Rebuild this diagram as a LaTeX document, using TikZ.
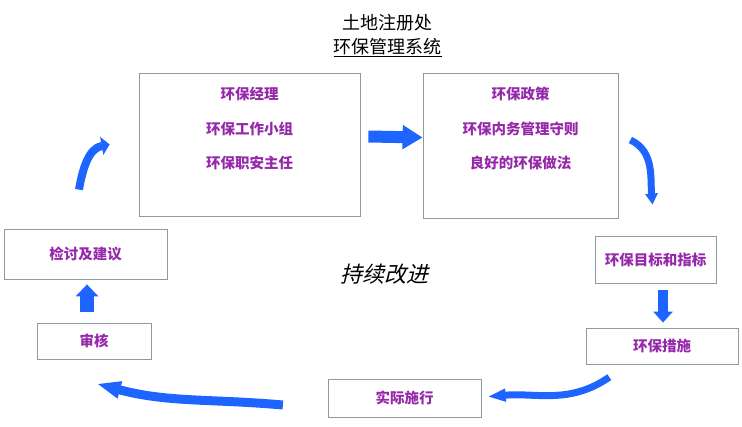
\documentclass[tikz,border=0pt]{standalone}
\usepackage{fontspec}
\newfontfamily\cjk{Noto Sans CJK SC}
\newfontfamily\cjkslant{Noto Sans CJK SC}[FakeSlant=0.25]
\usetikzlibrary{positioning,calc,arrows.meta}
\definecolor{boxgray}{RGB}{140,155,155}
\definecolor{flowblue}{RGB}{30,100,255}
\definecolor{itempurple}{RGB}{150,40,170}
\tikzset{
        box/.style={draw=boxgray,line width=0.8pt,inner sep=0pt,text=itempurple,
                font={\cjk\bfseries\fontsize{14.5pt}{34.5pt}\selectfont},align=center},
        itemlist/.style={inner sep=0pt,text=itempurple,align=center,
                font={\cjk\bfseries\fontsize{14.5pt}{34.5pt}\selectfont}},
        fatarrow/.style n args={3}{draw=flowblue,line width=#1,-{Triangle[width=#2,length=#3]}},
        bendarrow/.style n args={3}{draw=flowblue,line width=#1,-{Triangle[width=#2,length=#3]}}
}

\begin{document}
\begin{tikzpicture}[x=1pt,y=1pt]
        \useasboundingbox (0,0) rectangle (742,426);
        \node[font={\cjk\fontsize{18pt}{20pt}\selectfont}] (office) at (387,403.5) {土地注册处};
        \node[font={\cjk\fontsize{18pt}{20pt}\selectfont}] (system) at (387.5,378.5) {\underline{环保管理系统}};

        \node[box,minimum width=221pt,minimum height=143pt] (mgmt) at (249.5,281.5) {};
        \node[itemlist,below=14.5pt of mgmt.north] (mgmtlist) {环保经理\\环保工作小组\\环保职安主任};
        \node[box,minimum width=195pt,minimum height=145pt] (policy) at (520.5,280.5) {};
        \node[itemlist,below=14.5pt of policy.north] (policylist) {环保政策\\环保内务管理守则\\良好的环保做法};

        \node[box,minimum width=163pt,minimum height=50pt] (review) at (85.5,172) {检讨及建议};
        \node[box,minimum width=114pt,minimum height=36pt] (audit) at (94,85) {审核};
        \node[box,minimum width=121pt,minimum height=47pt] (target) at (655.5,166.5) {环保目标和指标};
        \node[box,minimum width=152pt,minimum height=36pt] (measures) at (662,80) {环保措施};
        \node[box,minimum width=153pt,minimum height=38pt] (implement) at (404.5,28) {实际施行};

        \node[font={\cjkslant\fontsize{22pt}{24pt}\selectfont}] (improve) at (384,152) {持续改进};

        \draw[fatarrow={12pt}{23pt}{20pt}] ([xshift=8pt,yshift=8pt]mgmt.east) -- ([yshift=8pt]policy.west);
        \draw[fatarrow={10pt}{19pt}{11pt}] ($(target.south -| measures.north)+(1,-7)$) -- ($(measures.north)+(1,5)$);
        \draw[fatarrow={14pt}{22pt}{12pt}] ($(review.south |- audit.north)+(1.5,11)$) -- ($(review.south)+(1.5,-5)$);

        \draw[bendarrow={8pt}{18pt}{8pt}] ($(review.north)+(-6.5,39)$) to[out=80,in=190] ($(mgmt.west)+(-29,0)$);
        \draw[bendarrow={7pt}{12pt}{11pt}] ($(policy.east)+(12,5.5)$) to[out=-25,in=95] ($(target.north)+(-3,31)$);
        \draw[bendarrow={7pt}{12pt}{18pt}] ($(measures.south)+(-52.7,-12.7)$) to[out=215,in=5] ($(implement.east)+(6.3,1.3)$);
        \draw[bendarrow={9pt}{16pt}{24pt}] ($(implement.west)+(-44.7,-7)$) to[out=175,in=-15] ($(audit.south)+(2.7,-24.3)$);
\end{tikzpicture}
\end{document}
